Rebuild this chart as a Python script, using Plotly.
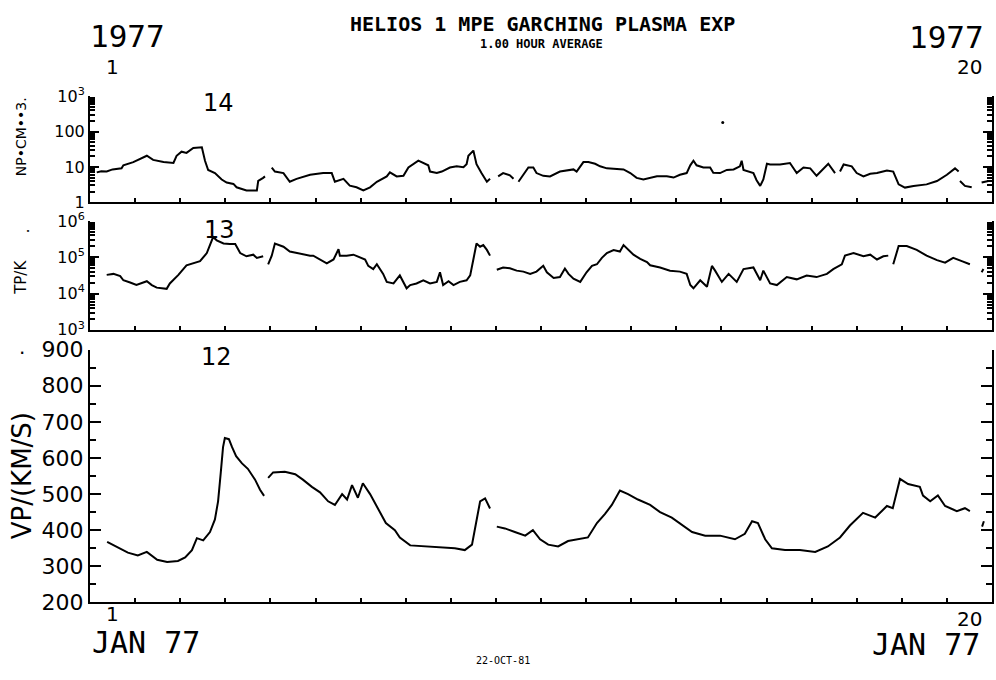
import plotly.graph_objects as go

# ---------------- data (day of January 1977, values) ----------------
NP_DAY = [1.15, 1.25, 1.37, 1.50, 1.70, 1.74, 1.96, 2.18, 2.26, 2.40, 2.63, 2.85, 2.92, 3.03, 3.14, 3.29, 3.48,
          3.55, 3.62, 3.77, 3.92, 4.03, 4.18, 4.25, 4.47, 4.70, 4.73, 4.84, 4.88, None,
          5.03, 5.10, 5.29, 5.43, 5.58, 5.88, 6.17, 6.36, 6.43, 6.62, 6.76, 6.91, 7.06, 7.21, 7.36, 7.58,
          7.65, 7.80, 7.95, 8.06, 8.28, 8.39, 8.50, 8.54, 8.69, 8.80, 8.98, 9.13, 9.28, 9.35, 9.39, 9.50,
          9.57, 9.68, 9.80, 9.87, None,
          10.05, 10.16, 10.31, 10.39, None,
          10.50, 10.61, 10.72, 10.83, 10.90, 11.05, 11.20, 11.42, 11.72, 11.79, 11.94, 12.05, 12.20, 12.31,
          12.46, 12.83, 12.98, 13.12, 13.27, 13.57, 13.79, 13.94, 14.08, 14.23, 14.31, 14.38, 14.45, 14.60,
          14.75, 14.82, 14.97, 15.12, 15.27, 15.41, 15.45, 15.49, 15.71, 15.78, 15.86, 15.93, 16.01, 16.08,
          16.30, 16.52, 16.67, 16.82, 16.97, 17.11, 17.26, 17.37, 17.52, None,
          17.63, 17.71, 17.89, 18.00, 18.15, 18.30, 18.45, 18.67, 18.81, 18.93, 19.07, 19.26, 19.55, 19.78,
          20.00, 20.18, 20.26, None,
          20.29, 20.40, 20.55, None,
          20.77, 20.92]
NP_VAL = [7.0, 7.5, 7.4, 8.5, 9.1, 11.1, 13.7, 18.6, 20.7, 15.8, 13.7, 12.9, 20.7, 27, 25, 34.5, 36,
          15, 8.2, 6.7, 4.4, 3.6, 3.3, 2.65, 2.16, 2.16, 4.0, 4.9, 5.4, None,
          9.6, 7.4, 6.7, 3.8, 4.6, 6.0, 6.7, 6.7, 3.8, 4.6, 2.94, 2.65, 2.16, 2.65, 3.8, 5.4,
          7.0, 5.4, 5.6, 9.6, 15, 12.9, 11.1, 7.4, 6.7, 7.4, 9.6, 10.4, 9.8, 12, 20.7, 29,
          12, 6.7, 3.8, 4.6, None,
          5.4, 6.7, 5.8, 4.6, None,
          3.8, 6.0, 9.6, 9.6, 6.7, 5.6, 5.4, 7.4, 8.5, 7.4, 13.7, 13.7, 12.3, 10.4,
          9.1, 8.5, 6.7, 4.9, 4.4, 5.4, 5.4, 5.0, 6.0, 6.7, 11.1, 15, 11.1, 9.6,
          9.6, 6.8, 6.7, 8.2, 8.5, 10.4, 15, 8.2, 6.7, 4.2, 2.9, 4.4, 12.3, 11.7,
          11.7, 12.9, 6.7, 9.6, 9.1, 5.6, 9.1, 12.3, 6.7, None,
          7.4, 11.7, 10.4, 6.7, 5.4, 6.4, 6.7, 7.9, 7.4, 3.2, 2.6, 2.9, 3.2, 4.0,
          6.0, 9.1, 7.4, None,
          4.0, 2.9, 2.65, None,
          3.6, 4.0]
NP_STRAY_DAY = [15.03]
NP_STRAY_VAL = [182]

TP_DAY = [1.37, 1.52, 1.67, 1.74, 1.89, 2.03, 2.26, 2.37, 2.48, 2.70, 2.77, 2.96, 3.14, 3.29, 3.44, 3.59,
          3.70, 3.73, 3.81, 3.96, 4.10, 4.22, 4.33, 4.47, 4.62, 4.70, 4.84, None,
          4.95, 5.03, 5.10, 5.18, 5.29, 5.43, 5.58, 5.73, 5.88, 5.95, 6.10, 6.25, 6.40, 6.51, 6.54, 6.69,
          6.84, 6.99, 7.10, 7.17, 7.28, 7.36, 7.43, 7.50, 7.58, 7.73, 7.87, 8.02, 8.10, 8.24, 8.39, 8.54,
          8.69, 8.76, 8.83, 8.95, 9.06, 9.20, 9.35, 9.43, 9.50, 9.57, 9.65, 9.72, 9.80, 9.87, None,
          10.02, 10.16, 10.31, 10.46, 10.61, 10.76, 10.90, 11.05, 11.13, 11.28, 11.42, 11.53, 11.61, 11.72,
          11.87, 12.01, 12.13, 12.24, 12.35, 12.46, 12.61, 12.75, 12.83, 12.90, 13.05, 13.20, 13.35, 13.42,
          13.64, 13.86, 14.08, 14.23, 14.31, 14.38, 14.53, 14.68, 14.79, 14.86, 15.01, 15.16, 15.34, 15.49,
          15.71, 15.86, 15.93, 16.08, 16.23, 16.45, 16.67, 16.89, 17.11, 17.34, 17.48, 17.67, 17.74, 17.93,
          18.15, 18.30, 18.45, 18.59, 18.70, None,
          18.81, 18.93, 19.11, 19.33, 19.55, 19.78, 19.96, 20.14, 20.33, 20.51, None,
          20.77, 20.81]
TP_VAL = [32800, 34900, 30200, 23300, 20200, 17200, 21900, 17200, 14600, 13500, 19000, 32800, 60300, 68200,
          78700, 130600, 294000, 361000, 294000, 240000, 231000, 231000, 130600, 106700, 118000, 96400,
          106700, None,
          64300, 111200, 240000, 217000, 196000, 144500, 130600, 118000, 111200, 111200, 87100, 68200, 87100,
          166700, 111200, 111200, 118000, 96400, 87100, 58100, 47300, 64300, 47300, 34900, 21000, 19000,
          31600, 14000, 17200, 19000, 23300, 19000, 21000, 38600, 17200, 21900, 17200, 21000, 23300, 31600,
          87100, 240000, 196000, 217000, 160000, 111200, None,
          45500, 52500, 50000, 42900, 40300, 34900, 40300, 58100, 38600, 26900, 28500, 49000, 34900, 25700,
          21000, 38600, 58100, 64300, 96400, 130600, 158500, 144500, 217000, 177800, 118000, 90800, 74100,
          60300, 52500, 42900, 40300, 34900, 17200, 14000, 23300, 15500, 58100, 42900, 21000, 34900, 21000,
          47300, 52500, 23300, 42900, 19000, 17200, 28500, 24700, 31600, 28500, 34900, 47300, 64300, 111200,
          130600, 106700, 118000, 87100, 106700, 111200, None,
          64300, 204000, 204000, 160300, 111200, 83800, 71100, 96400, 78700, 64300, None,
          38600, 47300]

VP_DAY = [1.38, 1.67, 1.84, 2.06, 2.26, 2.49, 2.71, 2.95, 3.11, 3.26, 3.37, 3.51, 3.66, 3.77, 3.84, 3.90,
          3.95, 3.99, 4.08, 4.15, 4.24, 4.37, 4.50, 4.66, 4.77, 4.86, None,
          4.95, 5.06, 5.32, 5.55, 5.72, 5.92, 6.10, 6.28, 6.43, 6.59, 6.70, 6.81, 6.94, 7.05, 7.21, 7.39,
          7.56, 7.76, 7.87, 8.10, 8.43, 8.76, 9.09, 9.31, 9.47, 9.56, 9.65, 9.76, 9.87, None,
          10.02, 10.20, 10.42, 10.65, 10.82, 10.98, 11.16, 11.38, 11.60, 11.82, 12.04, 12.24, 12.42, 12.57,
          12.75, 12.93, 13.15, 13.42, 13.64, 13.90, 14.13, 14.35, 14.64, 14.97, 15.30, 15.52, 15.68, 15.81,
          15.97, 16.12, 16.41, 16.74, 17.08, 17.36, 17.63, 17.85, 18.14, 18.41, 18.67, 18.80, 18.96, 19.14,
          19.40, 19.47, 19.63, 19.80, 19.96, 20.22, 20.40, 20.51, None,
          20.78, 20.82]
VP_VAL = [368, 350, 338, 330, 340, 318, 312, 315, 325, 345, 378, 372, 395, 430, 480, 560,
          630, 655, 652, 630, 605, 585, 570, 540, 512, 495, None,
          545, 560, 562, 555, 540, 520, 505, 480, 470, 500, 485, 525, 490, 530, 500, 460,
          420, 400, 380, 358, 355, 352, 350, 345, 360, 420, 480, 488, 460, None,
          410, 405, 395, 385, 400, 375, 360, 355, 370, 375, 380, 420, 445, 470,
          510, 500, 485, 470, 450, 435, 415, 395, 385, 385, 375, 390, 425, 420,
          375, 350, 345, 345, 340, 355, 380, 413, 448, 435, 467, 461, 542, 528,
          520, 496, 480, 496, 467, 453, 461, 453, None,
          410, 425]

NP_TICKS = [1, 10, 100, 1000]
NP_TICKTEXT = ["1", "10", "100", "10<sup>3</sup>"]
TP_TICKS = [1e3, 1e4, 1e5, 1e6]
TP_TICKTEXT = ["10<sup>3</sup>", "10<sup>4</sup>", "10<sup>5</sup>", "10<sup>6</sup>"]
MINOR_DIGITS = [2, 3, 4, 5, 6, 7, 8, 9]

# ---------------- figure ----------------
W, H = 996, 680
def px(x):
    return x / W
def py(y):
    return 1 - y / H

def log_minor(majors):
    return [m * d for m in majors[:-1] for d in MINOR_DIGITS]

XDOM = [px(90), px(992)]
LINE = dict(color="black", width=2)
FONT = "DejaVu Sans"
MONO = "DejaVu Sans Mono"

fig = go.Figure()
fig.add_trace(go.Scatter(x=NP_DAY, y=NP_VAL, mode="lines", line=LINE, xaxis="x", yaxis="y",
                         connectgaps=False, showlegend=False))
fig.add_trace(go.Scatter(x=NP_STRAY_DAY, y=NP_STRAY_VAL, mode="markers", marker=dict(color="black", size=3),
                         xaxis="x", yaxis="y", showlegend=False))
fig.add_trace(go.Scatter(x=TP_DAY, y=TP_VAL, mode="lines", line=LINE, xaxis="x2", yaxis="y2",
                         connectgaps=False, showlegend=False))
fig.add_trace(go.Scatter(x=VP_DAY, y=VP_VAL, mode="lines", line=LINE, xaxis="x3", yaxis="y3",
                         connectgaps=False, showlegend=False))

xcommon = dict(domain=XDOM, range=[1, 21], showline=True, linecolor="black", linewidth=2,
               ticks="inside", ticklen=4, tickwidth=1.5, tickcolor="black", tick0=1, dtick=1,
               showticklabels=False, showgrid=False, zeroline=False)
ytick_font = dict(family=FONT, size=16, color="black")
ycommon = dict(showline=True, linecolor="black", linewidth=2, mirror="ticks", ticks="inside",
               ticklen=9, tickwidth=2, tickcolor="black", showgrid=False, zeroline=False,
               tickfont=ytick_font)
minor_style = dict(ticks="inside", ticklen=5, tickwidth=1.5, tickcolor="black", showgrid=False)

fig.update_layout(
    width=W, height=H, margin=dict(l=0, r=0, t=0, b=0),
    paper_bgcolor="white", plot_bgcolor="white", showlegend=False,
    xaxis=dict(**xcommon, anchor="y"),
    xaxis2=dict(**xcommon, anchor="y2", matches="x"),
    xaxis3=dict(**xcommon, anchor="y3", matches="x"),
    xaxis4=dict(**xcommon, anchor="free", overlaying="x", side="top", position=py(70)),
    yaxis=dict(**ycommon, anchor="x", domain=[py(197.5), py(87.5)], type="log", range=[0, 3],
               tickmode="array", tickvals=NP_TICKS, ticktext=NP_TICKTEXT,
               minor=dict(**minor_style, tickmode="array", tickvals=log_minor(NP_TICKS))),
    yaxis2=dict(**ycommon, anchor="x2", domain=[py(330), py(217)], type="log", range=[3, 6],
                tickmode="array", tickvals=TP_TICKS, ticktext=TP_TICKTEXT,
                minor=dict(**minor_style, tickmode="array", tickvals=log_minor(TP_TICKS))),
    yaxis3=dict(showline=True, linecolor="black", linewidth=2, mirror="ticks", ticks="inside",
                ticklen=11, tickwidth=2, tickcolor="black", showgrid=False, zeroline=False,
                anchor="x3", domain=[py(613), py(350.5)], range=[200, 900],
                tickmode="linear", tick0=200, dtick=100,
                tickfont=dict(family=FONT, size=22, color="black"),
                minor=dict(ticks="inside", ticklen=6, tickwidth=1.5, tickcolor="black", tick0=250, dtick=100,
                           showgrid=False)),
)

def ann(text, x, y, size, family=FONT, angle=0, xref="paper"):
    fig.add_annotation(text=text, x=x, y=y, xref=xref, yref="paper", showarrow=False,
                       font=dict(family=family, size=size, color="black"), textangle=angle,
                       xanchor="center", yanchor="middle")

ann("1977", px(128), py(25), 31, MONO)
ann("1977", px(946), py(26), 31, MONO)
ann("<b>HELIOS 1 MPE GARCHING PLASMA EXP</b>", px(542), py(12), 20, MONO)
ann("<b>1.00 HOUR AVERAGE</b>", px(541), py(33), 12, MONO)
ann("1", 1.5, py(57), 20, FONT, xref="x")
ann("20", 20.5, py(57), 20, FONT, xref="x")
ann("1", 1.5, py(625), 20, FONT, xref="x")
ann("20", 20.5, py(630), 20, FONT, xref="x")
ann("14", px(218), py(94), 24)
ann("13", px(219), py(226), 24)
ann("12", px(216), py(358), 24)
ann("JAN 77", px(146), py(655), 30, MONO)
ann("JAN 77", px(926), py(657), 30, MONO)
ann("22-OCT-81", px(503), py(673), 10, MONO)
ann("NP•CM••3.", px(21), py(130), 14, FONT, angle=-90)
ann("TP/K", px(21), py(276), 15, FONT, angle=-90)
ann(".", px(24), py(228), 16, FONT, angle=-90)
ann("VP/(KM/S)", px(22), py(482), 26, FONT, angle=-90)
ann(".", px(22), py(348), 20, FONT)

fig.write_html("out.html")
